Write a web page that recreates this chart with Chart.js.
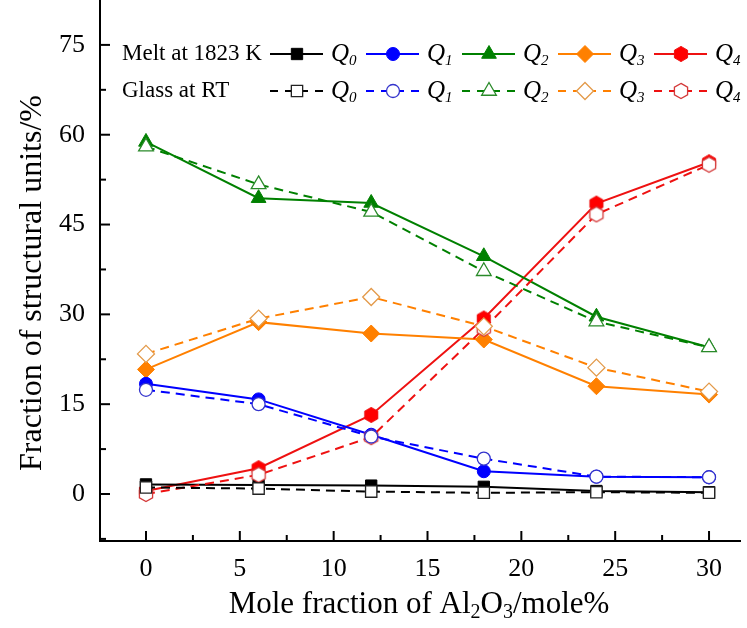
<!DOCTYPE html>
<html>
<head>
<meta charset="utf-8">
<script src="https://cdn.jsdelivr.net/npm/chart.js@4.4.1/dist/chart.umd.min.js"></script>
<style>
  html, body { margin: 0; padding: 0; background: #fff; }
  #c { display: block; }
</style>
</head>
<body>
<canvas id="c" width="747" height="628"></canvas>
<script>
// ---------------- data ----------------
const xValues = [0, 6, 12, 18, 24, 30];
const xTicks = [0, 5, 10, 15, 20, 25, 30];
const yTicks = [0, 15, 30, 45, 60, 75];

const meltQ0 = [1.6, 1.5, 1.4, 1.2, 0.5, 0.3];
const meltQ1 = [18.4, 15.8, 9.9, 3.8, 2.9, 2.8];
const meltQ2 = [58.8, 49.4, 48.6, 39.7, 29.6, 24.5];
const meltQ3 = [20.8, 28.7, 26.8, 25.8, 18.0, 16.6];
const meltQ4 = [0.5, 4.3, 13.2, 29.3, 48.5, 55.4];

const glassQ0 = [1.1, 0.9, 0.4, 0.2, 0.3, 0.2];
const glassQ1 = [17.4, 15.0, 9.6, 5.9, 2.9, 2.8];
const glassQ2 = [58.0, 51.7, 47.1, 37.2, 28.8, 24.5];
const glassQ3 = [23.4, 29.3, 32.9, 28.0, 21.1, 17.1];
const glassQ4 = [0.0, 3.2, 9.5, 27.6, 46.7, 55.0];

const seriesNames = ['Q0', 'Q1', 'Q2', 'Q3', 'Q4'];
const colors = ['#000000', '#0000ff', '#008000', '#ff8000', '#ee1111'];
const glassColors = ['#222222', '#3333cc', '#2a8a2a', '#e39a4a', '#d43a3a'];

// ---------------- marker helpers ----------------
function hexCanvas(fill, stroke, lw) {
  const c = document.createElement('canvas');
  c.width = 18; c.height = 18;
  const g = c.getContext('2d');
  const cx = 9, cy = 9, r = 7.6;
  g.beginPath();
  for (let k = 0; k < 6; k++) {
    const a = -Math.PI / 2 + k * Math.PI / 3;
    const px = cx + r * Math.cos(a), py = cy + r * Math.sin(a);
    if (k === 0) g.moveTo(px, py); else g.lineTo(px, py);
  }
  g.closePath();
  g.fillStyle = fill; g.fill();
  g.lineWidth = lw; g.strokeStyle = stroke; g.stroke();
  return c;
}
const hexFilled = hexCanvas('#ff0000', '#ee1111', 1);
const hexHollow = hexCanvas('#ffffff', '#d43a3a', 1.3);

const styles = ['rect', 'circle', 'triangle', 'rectRot', null];
const radii = [8, 6.5, 8.5, 8.5, 8];

function pts(arr) { return xValues.map((x, i) => ({ x: x, y: arr[i] })); }

const meltArrays = [meltQ0, meltQ1, meltQ2, meltQ3, meltQ4];
const glassArrays = [glassQ0, glassQ1, glassQ2, glassQ3, glassQ4];

const datasets = [];
// glass first so it is drawn on top
glassArrays.forEach((arr, i) => {
  datasets.push({
    label: 'Glass ' + seriesNames[i],
    data: pts(arr),
    borderColor: colors[i],
    borderWidth: 2,
    borderDash: [9, 6],
    pointStyle: i === 4 ? hexHollow : styles[i],
    pointRadius: radii[i],
    pointBackgroundColor: '#ffffff',
    pointBorderColor: glassColors[i],
    pointBorderWidth: 1.3,
    fill: false,
    tension: 0
  });
});
meltArrays.forEach((arr, i) => {
  datasets.push({
    label: 'Melt ' + seriesNames[i],
    data: pts(arr),
    borderColor: colors[i],
    borderWidth: 2,
    pointStyle: i === 4 ? hexFilled : styles[i],
    pointRadius: radii[i],
    pointBackgroundColor: colors[i],
    pointBorderColor: colors[i],
    pointBorderWidth: 1,
    fill: false,
    tension: 0
  });
});

const SERIF = "'Liberation Serif', 'Times New Roman', serif";

// ---------------- decorations plugin ----------------
const decor = {
  id: 'decor',
  afterDraw(chart) {
    const ctx = chart.ctx;
    const xs = chart.scales.x, ys = chart.scales.y;
    const area = chart.chartArea;
    ctx.save();
    ctx.strokeStyle = '#000';
    ctx.lineWidth = 2;
    // inward ticks
    for (let v = 0; v <= 30.01; v += 2.5) {
      const px = xs.getPixelForValue(v);
      const major = Math.abs(v % 5) < 0.01;
      ctx.beginPath();
      ctx.moveTo(px, area.bottom);
      ctx.lineTo(px, area.bottom - (major ? 10 : 6));
      ctx.stroke();
    }
    for (let v = -7.5; v <= 75.01; v += 7.5) {
      const py = ys.getPixelForValue(v);
      const major = Math.abs(v % 15) < 0.01;
      ctx.beginPath();
      ctx.moveTo(area.left, py);
      ctx.lineTo(area.left + (major ? 10 : 6), py);
      ctx.stroke();
    }

    // axis titles
    ctx.fillStyle = '#000';
    ctx.textBaseline = 'middle';
    // y title
    ctx.save();
    ctx.translate(33, 283);
    ctx.rotate(-Math.PI / 2);
    ctx.font = '32px ' + SERIF;
    ctx.textAlign = 'center';
    ctx.fillText('Fraction of structural units/%', 0, 0);
    ctx.restore();

    // x title with subscripts
    const big = '31px ' + SERIF, small = '20px ' + SERIF;
    const parts = [
      ['Mole fraction of Al', big, 0],
      ['2', small, 8],
      ['O', big, 0],
      ['3', small, 8],
      ['/mole%', big, 0]
    ];
    let total = 0;
    parts.forEach(p => { ctx.font = p[1]; total += ctx.measureText(p[0]).width; });
    let cx = 419 - total / 2;
    ctx.textAlign = 'left';
    parts.forEach(p => {
      ctx.font = p[1];
      ctx.fillText(p[0], cx, 605 + p[2]);
      cx += ctx.measureText(p[0]).width;
    });

    // legend
    const rows = [
      { text: 'Melt at 1823 K', y: 54, dash: [] },
      { text: 'Glass at RT', y: 91, dash: [8, 7] }
    ];
    const markerX = [297, 393, 489, 585, 681];
    rows.forEach((row, r) => {
      ctx.font = '23px ' + SERIF;
      ctx.fillStyle = '#000';
      ctx.textAlign = 'left';
      ctx.fillText(row.text, 122, row.y);
      for (let i = 0; i < 5; i++) {
        const ds = datasets[r === 0 ? 5 + i : i];
        const mx = markerX[i];
        ctx.save();
        ctx.strokeStyle = colors[i];
        ctx.lineWidth = 2;
        ctx.setLineDash(row.dash);
        ctx.beginPath();
        ctx.moveTo(mx - 27, row.y);
        ctx.lineTo(mx + 26, row.y);
        ctx.stroke();
        ctx.restore();
        ctx.save();
        ctx.fillStyle = ds.pointBackgroundColor;
        ctx.strokeStyle = ds.pointBorderColor;
        ctx.lineWidth = ds.pointBorderWidth;
        Chart.helpers.drawPoint(ctx, {
          pointStyle: ds.pointStyle,
          radius: ds.pointRadius,
          rotation: 0,
          borderWidth: ds.pointBorderWidth
        }, mx, row.y);
        ctx.restore();
        // Q label
        const tx = mx + 34;
        ctx.fillStyle = '#000';
        ctx.font = 'italic 25px ' + SERIF;
        ctx.fillText('Q', tx, row.y);
        const qw = ctx.measureText('Q').width;
        ctx.font = 'italic 15px ' + SERIF;
        ctx.fillText(String(i), tx + qw, row.y + 7);
      }
    });
    ctx.restore();
  }
};

// ---------------- chart ----------------
new Chart(document.getElementById('c'), {
  type: 'line',
  data: { datasets: datasets },
  options: {
    responsive: false,
    devicePixelRatio: 1,
    animation: false,
    layout: { autoPadding: false, padding: { left: 0, right: 7, top: 0, bottom: 0 } },
    plugins: { legend: { display: false }, tooltip: { enabled: false } },
    scales: {
      x: {
        type: 'linear',
        min: -2.45,
        max: 31.65,
        afterBuildTicks: s => { s.ticks = xTicks.map(v => ({ value: v })); },
        afterFit: s => { s.height = 87; s.paddingLeft = 0; s.paddingRight = 0; },
        grid: { display: true, drawOnChartArea: false, drawTicks: false },
        border: { display: true, color: '#000', width: 2 },
        ticks: {
          color: '#000',
          font: { family: SERIF, size: 26 },
          padding: 13,
          maxRotation: 0,
          autoSkip: false
        }
      },
      y: {
        type: 'linear',
        min: -7.85,
        max: 82.5,
        afterBuildTicks: s => { s.ticks = yTicks.map(v => ({ value: v })); },
        afterFit: s => { s.width = 100; s.paddingTop = 0; s.paddingBottom = 0; },
        grid: { display: true, drawOnChartArea: false, drawTicks: false },
        border: { display: true, color: '#000', width: 2 },
        ticks: {
          color: '#000',
          font: { family: SERIF, size: 26 },
          padding: 15,
          autoSkip: false
        }
      }
    }
  },
  plugins: [decor]
});
</script>
</body>
</html>
